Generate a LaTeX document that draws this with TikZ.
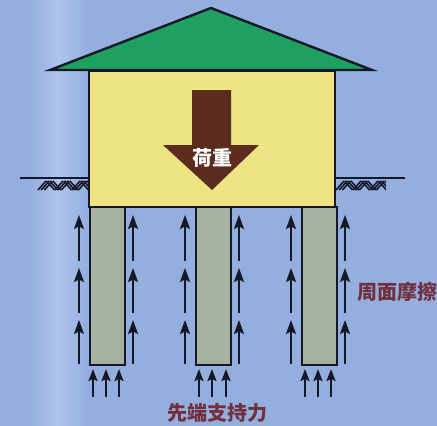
\documentclass[tikz,border=0pt]{standalone}
\usepackage{fontspec}
\newfontfamily\cjk{Noto Sans CJK JP}
\usetikzlibrary{arrows.meta}

\definecolor{bgblue}{RGB}{148,174,222}
\definecolor{bandblue}{RGB}{176,196,236}
\definecolor{roofgreen}{RGB}{30,160,96}
\definecolor{wallyellow}{RGB}{238,228,132}
\definecolor{loadbrown}{RGB}{92,44,32}
\definecolor{pilegray}{RGB}{168,178,162}
\definecolor{labelred}{RGB}{112,48,62}
\definecolor{inkdark}{RGB}{20,24,40}

\tikzset{
  outline/.style={draw=inkdark, line width=2.4pt, line join=miter},
  force/.style={draw=inkdark, line width=2pt, -{Stealth[length=14pt,width=10pt,inset=2.5pt]}},
  groundline/.style={draw=inkdark, line width=2pt},
  hatchline/.style={draw=inkdark, line width=1.6pt},
  label/.style={font=\cjk\bfseries\fontsize{20pt}{20pt}\selectfont, text=labelred, inner sep=0pt},
}

\begin{document}
\begin{tikzpicture}[x=1pt,y=-1pt]
  \useasboundingbox (0,0) rectangle (437,426);
  \clip (0,0) rectangle (437,426);

  % backdrop with its pale vertical band
  \fill[bgblue] (0,0) rectangle (437,426);
  \shade[left color=bgblue, right color=bgblue, middle color=bandblue, shading angle=90]
    (28,0) rectangle (88,426);

  % ground surface either side of the building
  \coordinate (gl0) at (20,178);
  \coordinate (gl1) at (88,178);
  \coordinate (gr0) at (334,178);
  \coordinate (gr1) at (405,178);
  \draw[groundline] (gl0) -- (gl1);
  \draw[groundline] (gr0) -- (gr1);

  % soil hatching: alternating bundles of diagonals
  \begin{scope}
    \clip (37,180) rectangle (88,191) (334,180) rectangle (386,191);
    \foreach \xb in {38,336} {
      \foreach \k in {0,1,2} {
        \foreach \j in {0,1,2} {
          \draw[hatchline] ({\xb+\k*17+\j*3.2},190) -- ({\xb+\k*17+\j*3.2+8},181);
          \draw[hatchline] ({\xb+\k*17+8.5+\j*3.2},181) -- ({\xb+\k*17+8.5+\j*3.2+8},190);
        }
      }
    }
  \end{scope}

  % piles
  \foreach \n/\xa in {1/89, 2/195, 3/301} {
    \node[outline, fill=pilegray, minimum width=35pt, minimum height=158pt,
          inner sep=0pt, anchor=north west] (pile\n) at (\xa,206) {};
  }

  % building body and roof
  \node[outline, fill=wallyellow, minimum width=246pt, minimum height=136pt,
        inner sep=0pt, anchor=north west] (house) at (88,70) {};
  \draw[outline, fill=roofgreen] (50,70) -- (211,8) -- (372,70) -- cycle;
  \coordinate (apex) at (211,8);

  % load arrow
  \fill[loadbrown] (192,90) -- (231,90) -- (231,145) -- (259,145) -- (212,190)
    -- (163,145) -- (192,145) -- cycle;
  \node[font=\cjk\bfseries\fontsize{20pt}{20pt}\selectfont, text=white, inner sep=0pt]
    (load) at (212,158) {荷重};

  % skin friction arrows along each pile
  \foreach \xs in {79,133,185,239,291,345} {
    \draw[force] (\xs,261) -- (\xs,215);
    \draw[force] (\xs,313) -- (\xs,268);
    \draw[force] (\xs,364) -- (\xs,320);
  }

  % end bearing arrows below each pile
  \foreach \xs in {93,106,119,199,212,226,305,318,331} {
    \draw[force, -{Stealth[length=12pt,width=9pt,inset=2pt]}] (\xs,397) -- (\xs,369);
  }

  % labels
  \node[label, anchor=west] (friction) at (357,292) {周面摩擦};
  \node[label] (bearing) at (217,413) {先端支持力};
\end{tikzpicture}
\end{document}
